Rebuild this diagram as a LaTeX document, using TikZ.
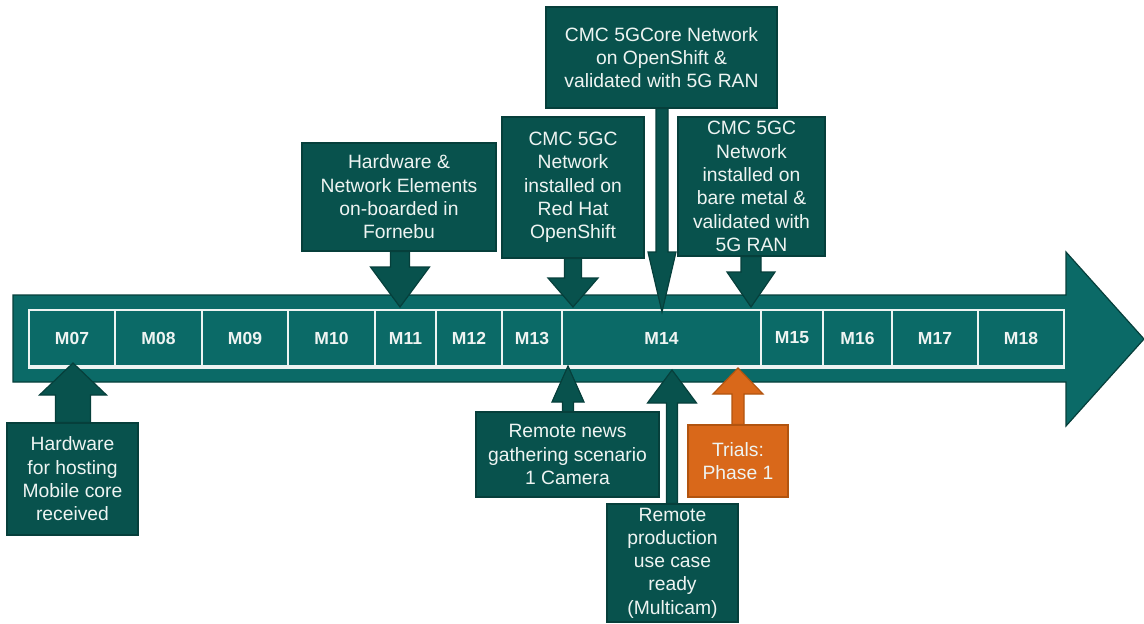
\documentclass[tikz,border=0pt]{standalone}
\usepackage{fontspec}
\setmainfont{Liberation Sans}
\usetikzlibrary{calc}
\definecolor{teal1}{HTML}{0B6A67}
\definecolor{teal2}{HTML}{08524D}
\definecolor{tealedge}{HTML}{063F3B}
\definecolor{orange1}{HTML}{D9681A}
\definecolor{orangeedge}{HTML}{B2540F}
\definecolor{txt}{HTML}{EEF4F2}
\pgfdeclarelayer{back}
\pgfdeclarelayer{mid}
\pgfsetlayers{back,mid,main}

% block arrow from a box edge to a tip: style, box anchor, tip, shaft half width, head half width, head length (+ down, - up)
\newcommand{\calloutarrow}[6]{%
  \draw[#1] let \p1=(#3), \p2=(#2) in
    (\x1-#4pt,\y2) -- (\x1-#4pt,\y1+#6pt) -- (\x1-#5pt,\y1+#6pt) -- (\x1,\y1)
    -- (\x1+#5pt,\y1+#6pt) -- (\x1+#4pt,\y1+#6pt) -- (\x1+#4pt,\y2) -- cycle;}

\begin{document}
\begin{tikzpicture}[x=1pt,y=-1pt,
  cell/.style={draw=txt, line width=1.2pt, fill=teal1, inner sep=0pt, minimum height=56pt,
    text=txt, font=\fontsize{17.5}{20}\selectfont\bfseries},
  boxstyle/.style={draw=tealedge, line width=1.2pt, fill=teal2, text=txt, inner sep=0pt,
    align=center, font=\fontsize{19.3}{23.3}\selectfont},
  obox/.style={boxstyle, draw=orangeedge, fill=orange1},
  arr/.style={draw=tealedge, line width=1.2pt, fill=teal2, line join=miter},
  oarr/.style={draw=orangeedge, line width=1.2pt, fill=orange1, line join=miter}]
\useasboundingbox (0,0) rectangle (1144,624);

\begin{pgfonlayer}{back}
% main timeline arrow
\draw[draw=tealedge, line width=1.2pt, fill=teal1, line join=miter]
  (13,295) -- (1066,295) -- (1066,252) -- (1144,339) -- (1066,426) -- (1066,382) -- (13,382) -- cycle;

% month cells
\foreach \a/\b/\t [count=\i] in {29/115/M07,115/202/M08,202/288/M09,288/375/M10,375/436/M11,
    436/502/M12,502/562/M13,562/761/M14,761/823/M15,823/892/M16,892/978/M17,978/1064/M18}
  \node[cell, minimum width={(\b-\a)*1pt}] (m\i) at ({(\a+\b)/2},338) {\t};
\draw[txt, line width=2.6pt] ([yshift=-1pt]m1.south west) -- ([yshift=-1pt]m12.south east);
\end{pgfonlayer}

% arrow tips on the timeline
\coordinate (t1) at (400,307);
\coordinate (t2) at (573,307);
\coordinate (t3) at (662,312);
\coordinate (t4) at (751,307);
\coordinate (t5) at (73,363);
\coordinate (t6) at (568,366);
\coordinate (t7) at (672,370);
\coordinate (t8) at (738,368);

% milestone boxes
\path
  (399,197) node[boxstyle, minimum width=194pt, minimum height=108pt] (b1)
    {Hardware \&\\Network Elements\\on-boarded in\\Fornebu}
  (573,187.5) node[boxstyle, minimum width=142pt, minimum height=141pt] (b2)
    {CMC 5GC\\Network\\installed on\\Red Hat\\OpenShift}
  (661.5,57.5) node[boxstyle, minimum width=231pt, minimum height=101pt] (b3)
    {CMC 5GCore Network\\on OpenShift \&\\validated with 5G RAN}
  (751.5,186.5) node[boxstyle, minimum width=147pt, minimum height=139pt] (b4)
    {CMC 5GC\\Network\\installed on\\bare metal \&\\validated with\\5G RAN}
  (72.5,479) node[boxstyle, minimum width=131pt, minimum height=112pt] (b5)
    {Hardware\\for hosting\\Mobile core\\received}
  (567.5,454.5) node[boxstyle, minimum width=183pt, minimum height=85pt] (b6)
    {Remote news\\gathering scenario\\1 Camera}
  (672.5,563) node[boxstyle, minimum width=131pt, minimum height=118pt] (b7)
    {Remote\\production\\use case\\ready\\(Multicam)}
  (738,461) node[obox, minimum width=100pt, minimum height=72pt] (b8)
    {Trials:\\Phase 1};

% block arrows pointing at the timeline, under the boxes
\begin{pgfonlayer}{mid}
\calloutarrow{arr}{b1.south}{t1}{9.5}{29.5}{40}
\calloutarrow{arr}{b2.south}{t2}{8.5}{25}{29}
\calloutarrow{arr}{b3.south}{t3}{6}{14}{60}
\calloutarrow{arr}{b4.south}{t4}{10}{24}{35}
\calloutarrow{arr}{b5.north}{t5}{17.5}{33.5}{-32}
\calloutarrow{arr}{b6.north}{t6}{5.5}{16}{-36}
\calloutarrow{arr}{b7.north}{t7}{5.5}{24.5}{-33}
\calloutarrow{oarr}{b8.north}{t8}{6}{25}{-26}
\end{pgfonlayer}
\end{tikzpicture}
\end{document}
